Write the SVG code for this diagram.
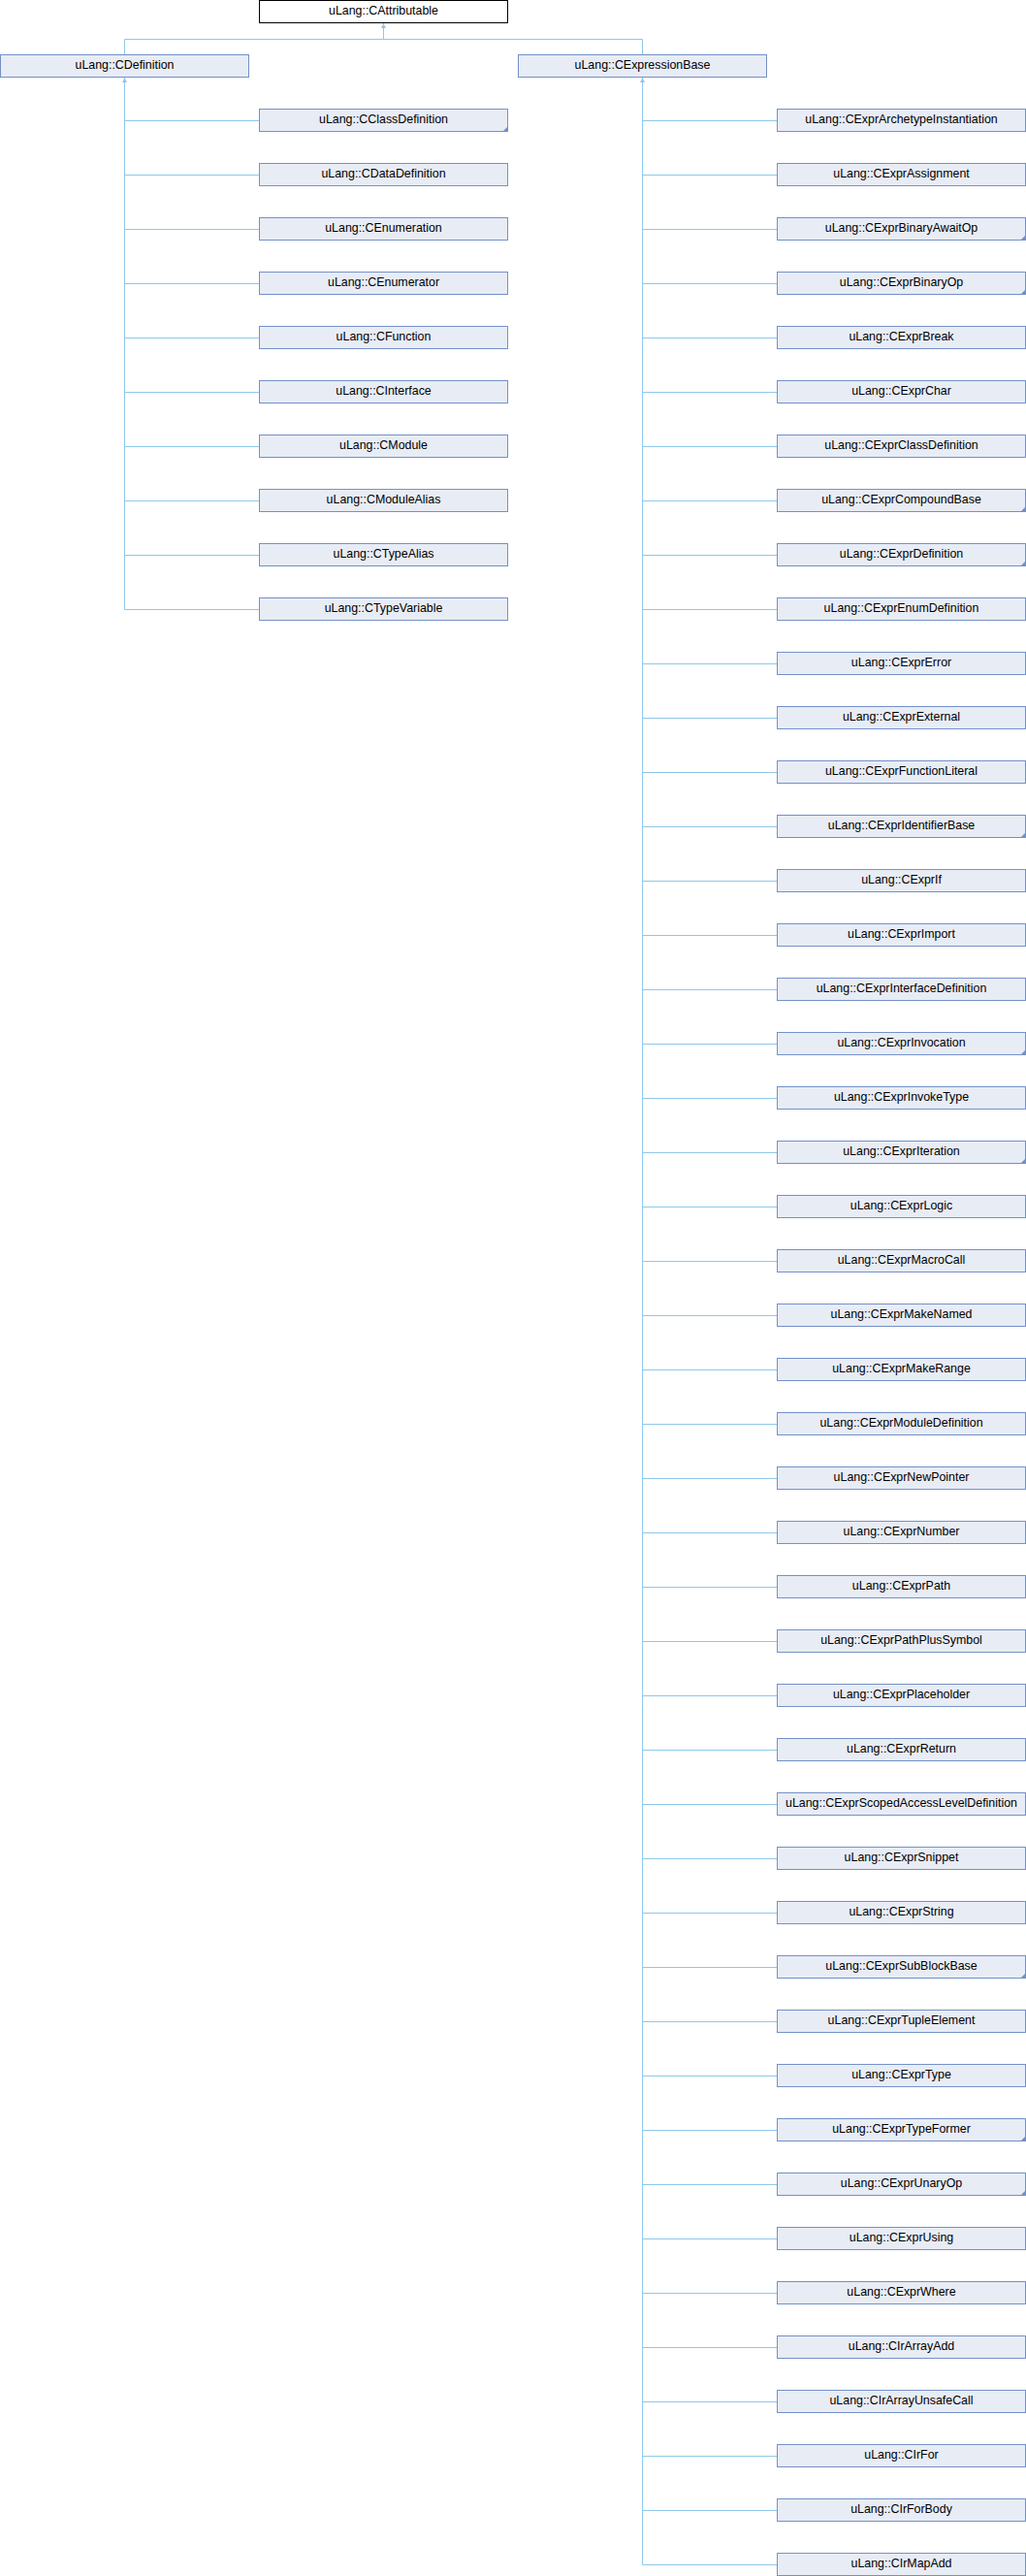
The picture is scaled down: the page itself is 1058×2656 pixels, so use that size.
<svg xmlns="http://www.w3.org/2000/svg" width="1058" height="2656" viewBox="0 0 1058 2656">
<style>
.n rect{fill:#e8ecf5;stroke:#7391c7;stroke-width:1}
.r rect{fill:#ffffff;stroke:#000000;stroke-width:1}
.n polygon{fill:#7391c7}
text{font-family:"Liberation Sans",Arial,Helvetica,sans-serif;font-size:12.4px;text-anchor:middle;fill:#000}
.c path{fill:none;stroke:#8ec8ea;stroke-width:1}
.c polygon{fill:#8ec8ea}
</style>
<rect x="0" y="0" width="1058" height="2656" fill="#ffffff"/>
<g class="c" id="connectors">
<path d="M395.5 24V40.5M128.5 40.5H662.5M128.5 40.5V56M662.5 40.5V56"/>
<polygon points="395.5,24 393,29 398,29"/>
<path d="M128.5 80V628.5M128.5 124.5H267M128.5 180.5H267M128.5 236.5H267M128.5 292.5H267M128.5 348.5H267M128.5 404.5H267M128.5 460.5H267M128.5 516.5H267M128.5 572.5H267M128.5 628.5H267"/>
<polygon points="128.5,80 126,85 131,85"/>
<path d="M662.5 80V2644.5M662.5 124.5H801M662.5 180.5H801M662.5 236.5H801M662.5 292.5H801M662.5 348.5H801M662.5 404.5H801M662.5 460.5H801M662.5 516.5H801M662.5 572.5H801M662.5 628.5H801M662.5 684.5H801M662.5 740.5H801M662.5 796.5H801M662.5 852.5H801M662.5 908.5H801M662.5 964.5H801M662.5 1020.5H801M662.5 1076.5H801M662.5 1132.5H801M662.5 1188.5H801M662.5 1244.5H801M662.5 1300.5H801M662.5 1356.5H801M662.5 1412.5H801M662.5 1468.5H801M662.5 1524.5H801M662.5 1580.5H801M662.5 1636.5H801M662.5 1692.5H801M662.5 1748.5H801M662.5 1804.5H801M662.5 1860.5H801M662.5 1916.5H801M662.5 1972.5H801M662.5 2028.5H801M662.5 2084.5H801M662.5 2140.5H801M662.5 2196.5H801M662.5 2252.5H801M662.5 2308.5H801M662.5 2364.5H801M662.5 2420.5H801M662.5 2476.5H801M662.5 2532.5H801M662.5 2588.5H801M662.5 2644.5H801"/>
<polygon points="662.5,80 660,85 665,85"/>
</g>
<g class="r" id="CAttributable"><rect x="267.5" y="0.5" width="256" height="23"/><text x="395.5" y="15">uLang::CAttributable</text></g>
<g class="n" id="CDefinition"><rect x="0.5" y="56.5" width="256" height="23"/><text x="128.5" y="71">uLang::CDefinition</text></g>
<g class="n" id="CExpressionBase"><rect x="534.5" y="56.5" width="256" height="23"/><text x="662.5" y="71">uLang::CExpressionBase</text></g>
<g class="n" id="CClassDefinition"><rect x="267.5" y="112.5" width="256" height="23"/><polygon points="524,130 524,136 518,136"/><text x="395.5" y="127">uLang::CClassDefinition</text></g>
<g class="n" id="CDataDefinition"><rect x="267.5" y="168.5" width="256" height="23"/><text x="395.5" y="183">uLang::CDataDefinition</text></g>
<g class="n" id="CEnumeration"><rect x="267.5" y="224.5" width="256" height="23"/><text x="395.5" y="239">uLang::CEnumeration</text></g>
<g class="n" id="CEnumerator"><rect x="267.5" y="280.5" width="256" height="23"/><text x="395.5" y="295">uLang::CEnumerator</text></g>
<g class="n" id="CFunction"><rect x="267.5" y="336.5" width="256" height="23"/><text x="395.5" y="351">uLang::CFunction</text></g>
<g class="n" id="CInterface"><rect x="267.5" y="392.5" width="256" height="23"/><text x="395.5" y="407">uLang::CInterface</text></g>
<g class="n" id="CModule"><rect x="267.5" y="448.5" width="256" height="23"/><text x="395.5" y="463">uLang::CModule</text></g>
<g class="n" id="CModuleAlias"><rect x="267.5" y="504.5" width="256" height="23"/><text x="395.5" y="519">uLang::CModuleAlias</text></g>
<g class="n" id="CTypeAlias"><rect x="267.5" y="560.5" width="256" height="23"/><text x="395.5" y="575">uLang::CTypeAlias</text></g>
<g class="n" id="CTypeVariable"><rect x="267.5" y="616.5" width="256" height="23"/><text x="395.5" y="631">uLang::CTypeVariable</text></g>
<g class="n" id="CExprArchetypeInstantiation"><rect x="801.5" y="112.5" width="256" height="23"/><text x="929.5" y="127">uLang::CExprArchetypeInstantiation</text></g>
<g class="n" id="CExprAssignment"><rect x="801.5" y="168.5" width="256" height="23"/><text x="929.5" y="183">uLang::CExprAssignment</text></g>
<g class="n" id="CExprBinaryAwaitOp"><rect x="801.5" y="224.5" width="256" height="23"/><polygon points="1058,242 1058,248 1052,248"/><text x="929.5" y="239">uLang::CExprBinaryAwaitOp</text></g>
<g class="n" id="CExprBinaryOp"><rect x="801.5" y="280.5" width="256" height="23"/><polygon points="1058,298 1058,304 1052,304"/><text x="929.5" y="295">uLang::CExprBinaryOp</text></g>
<g class="n" id="CExprBreak"><rect x="801.5" y="336.5" width="256" height="23"/><text x="929.5" y="351">uLang::CExprBreak</text></g>
<g class="n" id="CExprChar"><rect x="801.5" y="392.5" width="256" height="23"/><text x="929.5" y="407">uLang::CExprChar</text></g>
<g class="n" id="CExprClassDefinition"><rect x="801.5" y="448.5" width="256" height="23"/><text x="929.5" y="463">uLang::CExprClassDefinition</text></g>
<g class="n" id="CExprCompoundBase"><rect x="801.5" y="504.5" width="256" height="23"/><polygon points="1058,522 1058,528 1052,528"/><text x="929.5" y="519">uLang::CExprCompoundBase</text></g>
<g class="n" id="CExprDefinition"><rect x="801.5" y="560.5" width="256" height="23"/><polygon points="1058,578 1058,584 1052,584"/><text x="929.5" y="575">uLang::CExprDefinition</text></g>
<g class="n" id="CExprEnumDefinition"><rect x="801.5" y="616.5" width="256" height="23"/><text x="929.5" y="631">uLang::CExprEnumDefinition</text></g>
<g class="n" id="CExprError"><rect x="801.5" y="672.5" width="256" height="23"/><text x="929.5" y="687">uLang::CExprError</text></g>
<g class="n" id="CExprExternal"><rect x="801.5" y="728.5" width="256" height="23"/><text x="929.5" y="743">uLang::CExprExternal</text></g>
<g class="n" id="CExprFunctionLiteral"><rect x="801.5" y="784.5" width="256" height="23"/><text x="929.5" y="799">uLang::CExprFunctionLiteral</text></g>
<g class="n" id="CExprIdentifierBase"><rect x="801.5" y="840.5" width="256" height="23"/><polygon points="1058,858 1058,864 1052,864"/><text x="929.5" y="855">uLang::CExprIdentifierBase</text></g>
<g class="n" id="CExprIf"><rect x="801.5" y="896.5" width="256" height="23"/><text x="929.5" y="911">uLang::CExprIf</text></g>
<g class="n" id="CExprImport"><rect x="801.5" y="952.5" width="256" height="23"/><text x="929.5" y="967">uLang::CExprImport</text></g>
<g class="n" id="CExprInterfaceDefinition"><rect x="801.5" y="1008.5" width="256" height="23"/><text x="929.5" y="1023">uLang::CExprInterfaceDefinition</text></g>
<g class="n" id="CExprInvocation"><rect x="801.5" y="1064.5" width="256" height="23"/><polygon points="1058,1082 1058,1088 1052,1088"/><text x="929.5" y="1079">uLang::CExprInvocation</text></g>
<g class="n" id="CExprInvokeType"><rect x="801.5" y="1120.5" width="256" height="23"/><text x="929.5" y="1135">uLang::CExprInvokeType</text></g>
<g class="n" id="CExprIteration"><rect x="801.5" y="1176.5" width="256" height="23"/><polygon points="1058,1194 1058,1200 1052,1200"/><text x="929.5" y="1191">uLang::CExprIteration</text></g>
<g class="n" id="CExprLogic"><rect x="801.5" y="1232.5" width="256" height="23"/><text x="929.5" y="1247">uLang::CExprLogic</text></g>
<g class="n" id="CExprMacroCall"><rect x="801.5" y="1288.5" width="256" height="23"/><text x="929.5" y="1303">uLang::CExprMacroCall</text></g>
<g class="n" id="CExprMakeNamed"><rect x="801.5" y="1344.5" width="256" height="23"/><text x="929.5" y="1359">uLang::CExprMakeNamed</text></g>
<g class="n" id="CExprMakeRange"><rect x="801.5" y="1400.5" width="256" height="23"/><text x="929.5" y="1415">uLang::CExprMakeRange</text></g>
<g class="n" id="CExprModuleDefinition"><rect x="801.5" y="1456.5" width="256" height="23"/><text x="929.5" y="1471">uLang::CExprModuleDefinition</text></g>
<g class="n" id="CExprNewPointer"><rect x="801.5" y="1512.5" width="256" height="23"/><text x="929.5" y="1527">uLang::CExprNewPointer</text></g>
<g class="n" id="CExprNumber"><rect x="801.5" y="1568.5" width="256" height="23"/><text x="929.5" y="1583">uLang::CExprNumber</text></g>
<g class="n" id="CExprPath"><rect x="801.5" y="1624.5" width="256" height="23"/><text x="929.5" y="1639">uLang::CExprPath</text></g>
<g class="n" id="CExprPathPlusSymbol"><rect x="801.5" y="1680.5" width="256" height="23"/><text x="929.5" y="1695">uLang::CExprPathPlusSymbol</text></g>
<g class="n" id="CExprPlaceholder"><rect x="801.5" y="1736.5" width="256" height="23"/><text x="929.5" y="1751">uLang::CExprPlaceholder</text></g>
<g class="n" id="CExprReturn"><rect x="801.5" y="1792.5" width="256" height="23"/><text x="929.5" y="1807">uLang::CExprReturn</text></g>
<g class="n" id="CExprScopedAccessLevelDefinition"><rect x="801.5" y="1848.5" width="256" height="23"/><text x="929.5" y="1863">uLang::CExprScopedAccessLevelDefinition</text></g>
<g class="n" id="CExprSnippet"><rect x="801.5" y="1904.5" width="256" height="23"/><text x="929.5" y="1919">uLang::CExprSnippet</text></g>
<g class="n" id="CExprString"><rect x="801.5" y="1960.5" width="256" height="23"/><text x="929.5" y="1975">uLang::CExprString</text></g>
<g class="n" id="CExprSubBlockBase"><rect x="801.5" y="2016.5" width="256" height="23"/><polygon points="1058,2034 1058,2040 1052,2040"/><text x="929.5" y="2031">uLang::CExprSubBlockBase</text></g>
<g class="n" id="CExprTupleElement"><rect x="801.5" y="2072.5" width="256" height="23"/><text x="929.5" y="2087">uLang::CExprTupleElement</text></g>
<g class="n" id="CExprType"><rect x="801.5" y="2128.5" width="256" height="23"/><text x="929.5" y="2143">uLang::CExprType</text></g>
<g class="n" id="CExprTypeFormer"><rect x="801.5" y="2184.5" width="256" height="23"/><polygon points="1058,2202 1058,2208 1052,2208"/><text x="929.5" y="2199">uLang::CExprTypeFormer</text></g>
<g class="n" id="CExprUnaryOp"><rect x="801.5" y="2240.5" width="256" height="23"/><polygon points="1058,2258 1058,2264 1052,2264"/><text x="929.5" y="2255">uLang::CExprUnaryOp</text></g>
<g class="n" id="CExprUsing"><rect x="801.5" y="2296.5" width="256" height="23"/><text x="929.5" y="2311">uLang::CExprUsing</text></g>
<g class="n" id="CExprWhere"><rect x="801.5" y="2352.5" width="256" height="23"/><text x="929.5" y="2367">uLang::CExprWhere</text></g>
<g class="n" id="CIrArrayAdd"><rect x="801.5" y="2408.5" width="256" height="23"/><text x="929.5" y="2423">uLang::CIrArrayAdd</text></g>
<g class="n" id="CIrArrayUnsafeCall"><rect x="801.5" y="2464.5" width="256" height="23"/><text x="929.5" y="2479">uLang::CIrArrayUnsafeCall</text></g>
<g class="n" id="CIrFor"><rect x="801.5" y="2520.5" width="256" height="23"/><text x="929.5" y="2535">uLang::CIrFor</text></g>
<g class="n" id="CIrForBody"><rect x="801.5" y="2576.5" width="256" height="23"/><text x="929.5" y="2591">uLang::CIrForBody</text></g>
<g class="n" id="CIrMapAdd"><rect x="801.5" y="2632.5" width="256" height="23"/><text x="929.5" y="2647">uLang::CIrMapAdd</text></g>
</svg>
